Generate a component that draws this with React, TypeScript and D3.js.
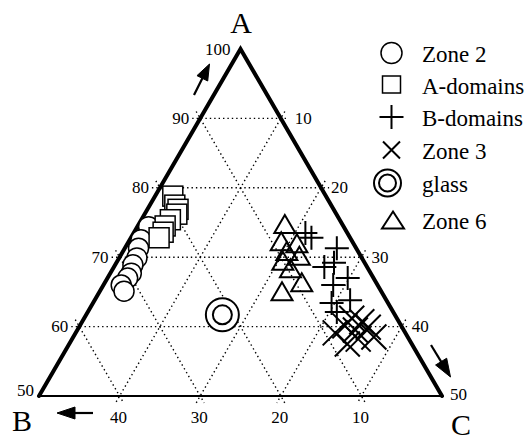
import React from 'react';
import * as d3 from 'd3';

// ternary values [A, B, C], A from 50 to 100
const zone2 = [
  [74.4, 24.2, 1.4], [72.5, 26.1, 1.4], [71.3, 27.0, 1.7], [69.9, 27.9, 2.2],
  [68.9, 28.9, 2.2], [67.7, 29.7, 2.6], [67.0, 30.5, 2.5], [66.0, 31.8, 2.2],
  [65.1, 31.9, 3.0],
];
const aDomains = [
  [78.8, 19.0, 2.2], [77.5, 19.4, 3.1], [76.9, 19.3, 3.8], [76.2, 19.8, 4.0],
  [75.4, 21.0, 3.6], [74.5, 22.1, 3.4], [73.6, 22.8, 3.6], [72.8, 23.7, 3.5],
];
const bDomains = [
  [73.5, 5.2, 21.3], [72.8, 4.8, 22.4], [71.3, 2.4, 26.3], [69.2, 3.8, 27.0],
  [68.6, 5.3, 26.1], [67.0, 3.2, 29.8], [66.0, 5.5, 28.5], [63.8, 4.5, 31.7],
  [63.4, 7.0, 29.6], [62.1, 7.0, 30.9],
];
const zone3 = [
  [61.2, 5.6, 33.2], [60.7, 4.6, 34.7], [60.1, 7.0, 32.9], [59.9, 4.2, 35.9],
  [59.5, 6.0, 34.5], [59.1, 8.7, 32.2], [58.5, 4.2, 37.3], [58.2, 6.3, 35.5],
  [57.5, 8.0, 34.5],
];
const glass = [[61.7, 21.4, 16.9]];
const zone6 = [
  [74.8, 7.1, 18.1], [72.3, 8.8, 18.9], [72.0, 7.0, 21.0], [70.9, 8.8, 20.3],
  [70.2, 7.6, 22.2], [69.5, 10.0, 20.5], [68.4, 9.6, 22.0], [66.4, 9.2, 24.4],
  [65.1, 12.3, 22.6],
];

const gridValues = [10, 20, 30, 40];
const leftTicks = [50, 60, 70, 80, 90, 100];
const rightTicks = [10, 20, 30, 40, 50];
const bottomTicks = [40, 30, 20, 10];
const legendLabels = ['Zone 2', 'A-domains', 'B-domains', 'Zone 3', 'glass', 'Zone 6'];
const legendKinds = ['circle', 'square', 'plus', 'cross', 'glass', 'triangle'];

const FONT = "'Liberation Serif', 'DejaVu Serif', serif";

const yScale = d3.scaleLinear().domain([50, 100]).range([396, 49]);
const uScale = d3.scaleLinear().domain([0, 50]).range([39, 442]);
const proj = (a: number, c: number): [number, number] => [uScale(c + (a - 50) / 2), yScale(a)];

const extend = (p: [number, number], q: [number, number], e: number) => {
  const dx = q[0] - p[0], dy = q[1] - p[1];
  const len = Math.hypot(dx, dy);
  const ux = dx / len, uy = dy / len;
  return [p[0] - ux * e, p[1] - uy * e, q[0] + ux * e, q[1] + uy * e];
};

function Marker({ kind, x, y, legend }: { kind: string; x: number; y: number; legend?: boolean }) {
  if (kind === 'circle') {
    return <circle cx={x} cy={y} r={legend ? 10.5 : 10} fill="#fff" stroke="#000" strokeWidth={1.5} />;
  }
  if (kind === 'square') {
    const s = legend ? 18 : 20;
    return <rect x={x - s / 2} y={y - s / 2} width={s} height={legend ? 17 : s} fill="#fff" stroke="#000" strokeWidth={1.5} />;
  }
  if (kind === 'plus') {
    const h = 12;
    return <path d={`M${x - h},${y}H${x + h}M${x},${y - h}V${y + h}`} stroke="#000" strokeWidth={2} fill="none" />;
  }
  if (kind === 'cross') {
    const h = legend ? 8.5 : 12.5;
    return <path d={`M${x - h},${y - h}L${x + h},${y + h}M${x - h},${y + h}L${x + h},${y - h}`} stroke="#000" strokeWidth={2} fill="none" />;
  }
  if (kind === 'glass') {
    const ro = legend ? 13.5 : 16.5, ri = legend ? 8.5 : 9.5;
    return (
      <g>
        <circle cx={x} cy={y} r={ro} fill="#fff" stroke="#000" strokeWidth={2} />
        <circle cx={x} cy={y} r={ri} fill="#fff" stroke="#000" strokeWidth={2} />
      </g>
    );
  }
  // triangle
  const w = legend ? 22 : 21, h = legend ? 17 : 18;
  return <path d={`M${x},${y - h / 2}L${x + w / 2},${y + h / 2}L${x - w / 2},${y + h / 2}Z`} fill="none" stroke="#000" strokeWidth={2} strokeLinejoin="miter" />;
}

function Arrow({ x1, y1, x2, y2, head, half }: { x1: number; y1: number; x2: number; y2: number; head: number; half: number }) {
  const dx = x2 - x1, dy = y2 - y1;
  const len = Math.hypot(dx, dy);
  const ux = dx / len, uy = dy / len;
  const bx = x2 - ux * head, by = y2 - uy * head;
  const pts = `${x2},${y2} ${bx - uy * half},${by + ux * half} ${bx + uy * half},${by - ux * half}`;
  return (
    <g>
      <line x1={x1} y1={y1} x2={bx + ux * 2} y2={by + uy * 2} stroke="#000" strokeWidth={2.2} />
      <polygon points={pts} fill="#000" stroke="#000" strokeWidth={1} strokeLinejoin="miter" />
    </g>
  );
}

export default function App() {
  const apex = proj(100, 0);
  const cornerB = proj(50, 0);
  const cornerC = proj(50, 50);

  const gridLines: number[][] = [];
  gridValues.forEach((v) => {
    // constant A
    gridLines.push(extend(proj(100 - v, 0), proj(100 - v, v), 8));
    // constant B
    gridLines.push(extend(proj(100 - v, 0), proj(50, 50 - v), 8));
    // constant C
    gridLines.push(extend(proj(100 - v, v), proj(50, v), 8));
  });

  const series: [string, number[][]][] = [
    ['circle', zone2],
    ['square', aDomains],
    ['glass', glass],
    ['triangle', zone6],
    ['plus', bDomains],
    ['cross', zone3],
  ];

  const legendY = [53, 85, 117, 150, 183, 220];

  return (
    <svg width={527} height={437} style={{ position: 'absolute', left: 0, top: 0, background: '#fff' }}>
      <rect width={527} height={437} fill="#fff" />
      {gridLines.map((l, i) => (
        <line key={i} x1={l[0]} y1={l[1]} x2={l[2]} y2={l[3]} stroke="#000" strokeWidth={1.4} strokeDasharray="1.4 3" />
      ))}
      <line x1={cornerB[0]} y1={cornerB[1]} x2={cornerC[0]} y2={cornerC[1]} stroke="#000" strokeWidth={2} />
      <path d={`M${cornerB[0]},${cornerB[1]}L${apex[0]},${apex[1]}L${cornerC[0]},${cornerC[1]}`} fill="none" stroke="#000" strokeWidth={4} strokeLinejoin="miter" strokeLinecap="round" />

      <g style={{ fontFamily: FONT }} fill="#000">
        {leftTicks.map((a) => {
          const p = proj(a, 0);
          const off = a === 50 ? 5 : a === 100 ? 10 : 11;
          return (
            <text key={a} x={p[0] - off} y={p[1] + (a === 50 ? -6 : 0)} fontSize={17} textAnchor="end" dominantBaseline="central">{a}</text>
          );
        })}
        {rightTicks.map((c) => {
          const p = proj(100 - c, c);
          const off = c === 50 ? 8 : c === 10 ? 14 : 10;
          return (
            <text key={c} x={p[0] + off} y={p[1] + (c === 50 ? -2 : 0)} fontSize={17} textAnchor="start" dominantBaseline="central">{c}</text>
          );
        })}
        {bottomTicks.map((b) => {
          const p = proj(50, 50 - b);
          return (
            <text key={b} x={p[0] - 1} y={423} fontSize={17} textAnchor="middle">{b}</text>
          );
        })}

        <text x={241} y={33} fontSize={30} textAnchor="middle">A</text>
        <text x={12} y={431} fontSize={30}>B</text>
        <text x={451} y={435} fontSize={30}>C</text>
      </g>

      <Arrow x1={194} y1={95} x2={209.5} y2={64} head={16} half={6} />
      <Arrow x1={93} y1={413} x2={57} y2={413} head={18} half={6} />
      <Arrow x1={431} y1={345} x2={450.5} y2={377} head={18} half={6.5} />

      {series.map(([kind, pts]) =>
        pts.map((d, i) => {
          const p = proj(d[0], d[2]);
          return <Marker key={kind + i} kind={kind} x={p[0]} y={p[1]} />;
        })
      )}

      {legendLabels.map((label, i) => (
        <g key={label}>
          <Marker kind={legendKinds[i]} x={kindX(legendKinds[i])} y={legendY[i]} legend />
          <text x={422} y={legendY[i] + 9} fontSize={23} style={{ fontFamily: FONT }}>{label}</text>
        </g>
      ))}
    </svg>
  );
}

function kindX(kind: string) {
  if (kind === 'glass') return 387.5;
  if (kind === 'triangle') return 393;
  return 391.5;
}
